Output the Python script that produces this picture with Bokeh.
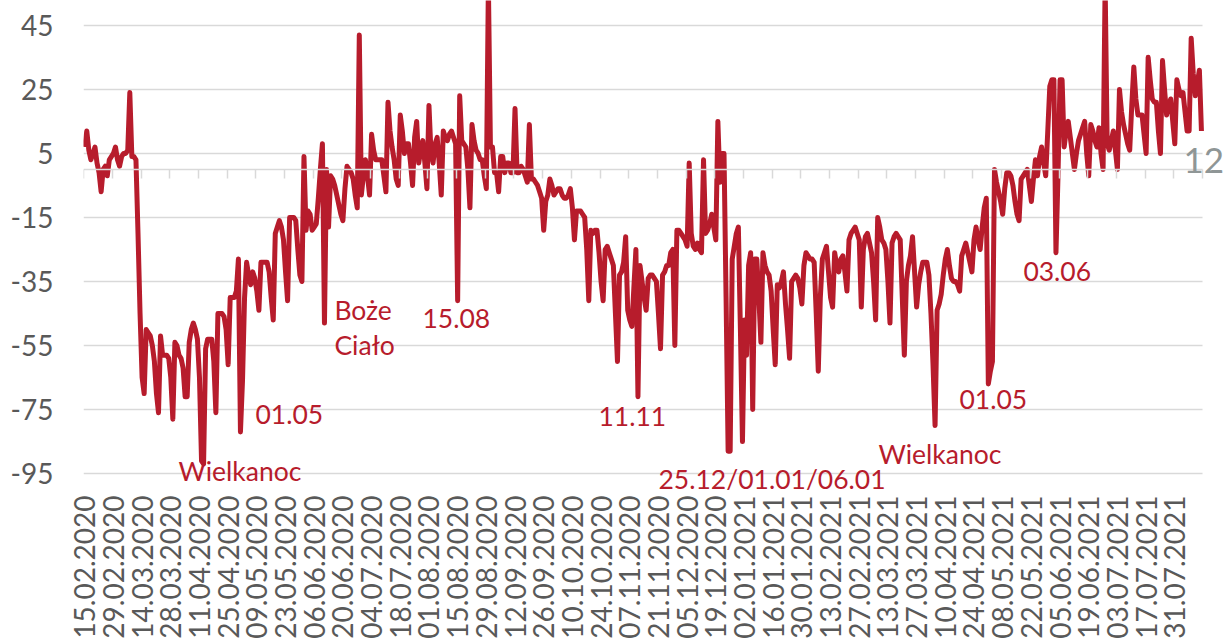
import numpy as np
from bokeh.plotting import figure
from bokeh.models import FixedTicker, Range1d, Label, LinearAxis, Grid
from bokeh.embed import file_html
from bokeh.resources import INLINE

# Daily values starting 15.02.2020 (one value per day)
vals_feb_may_2020 = [
    7, 12, 6, 3, 5, 7, 2,
    -1, -7, 0, 1, -2, 3, 4,
    5, 7, 3, 1, 4, 5, 5,
    6, 24, 4, 4, 3, -20, -45,
    -65, -70, -50, -51, -52, -55, -60,
    -70, -76, -52, -58, -58, -58, -59,
    -65, -78, -54, -55, -58, -59, -62,
    -71, -71, -54, -50, -48, -50, -53,
    -65, -91, -92, -56, -53, -53, -53,
    -60, -76, -45, -45, -45, -46, -50,
    -61, -40, -40, -40, -38, -28, -82,
]
vals_may_jul_2020 = [
    -66, -40, -29, -33, -36, -32, -34,
    -38, -44, -29, -29, -29, -29, -32,
    -40, -47, -20, -18, -16, -18, -22,
    -32, -41, -15, -15, -15, -16, -25,
    -33, -35, 4, -19, -13, -14, -19,
    -18, -17, -9, 0, 8, -48, 0,
    -18, -2, -3, -5, -8, -11, -14,
    -16, -6, 1, 0, -1, -3, -8,
    -12, 42, -8, -2, 3, -2, -8,
    11, 6, 3, 3, 3, 3, -2,
    -7, 21, 12, 7, 3, -3, -5,
    17,
]
vals_jul_oct_2020 = [
    12, 5, 8, 8, 2, -5, 10,
    15, 2, 6, 9, 2, -6, 20,
    5, 2, 8, 10, 2, -8, 12,
    10, 9, 11, 12, 10, 8, -41,
    23, 9, 8, 7, 0, -12, 14,
    9, 6, 5, 3, 3, -2, -6,
    58, 7, 7, -1, -1, -7, 4,
    4, -1, 2, 2, -1, -1, 19,
    -1, -1, 1, 0, -2, -4, 14,
    -3, -3, -4, -5, -7, -9, -19,
    -10, -8, -3, -5, -8, -7, -6,
]
vals_oct_dec_2020 = [
    -6, -8, -9, -9, -8, -6, -12,
    -22, -13, -13, -13, -14, -15, -25,
    -41, -19, -20, -19, -19, -26, -35,
    -41, -25, -24, -26, -28, -30, -45,
    -60, -33, -32, -29, -21, -44, -47,
    -49, -37, -25, -71, -30, -35, -40,
    -44, -34, -33, -33, -34, -35, -45,
    -56, -33, -32, -30, -30, -26, -25,
    -55, -19, -19, -20, -21, -22, -24,
    2, -20, -24, -25, -23, -25, -26,
    3, -20, -19, -17, -14, -18, -22,
    15, -4,
]
vals_dec_2020_mar_2021 = [
    5, 5, -40, -88, -88, -28, -24,
    -20, -18, -50, -85, -47, -58, -30,
    -26, -75, -28, -28, -40, -54, -26,
    -30, -32, -33, -38, -50, -61, -36,
    -37, -35, -32, -42, -50, -59, -35,
    -34, -33, -34, -37, -42, -30, -26,
    -27, -28, -28, -29, -45, -63, -40,
    -28, -26, -24, -32, -40, -43, -26,
    -30, -32, -28, -27, -32, -38, -22,
    -20, -19, -18, -20, -22, -43, -25,
    -21, -20, -23, -26, -35, -47, -15,
    -18, -22,
]
vals_mar_may_2021 = [
    -23, -25, -35, -48, -23, -21, -20,
    -21, -22, -40, -58, -35, -30, -27,
    -21, -32, -43, -36, -32, -29, -29,
    -29, -33, -45, -61, -80, -44, -42,
    -39, -33, -28, -25, -30, -34, -35,
    -35, -36, -38, -27, -25, -23, -26,
    -29, -32, -22, -18, -22, -25, -18,
    -12, -9, -67, -63, -60, 0, -4,
    -7, -10, -14, -6, -1, -1, -2,
    -5, -10, -14, -16, -3, -2, -1,
    0, -5, -10, -3, 3, -2, 4,
    7,
]
vals_may_aug_2021 = [
    2, -2, 12, 26, 28, 28, -26,
    -2, 28, 28, 7, 12, 15, 10,
    5, 0, 5, 9, 11, 13, 15,
    5, -2, 14, 12, 9, 7, 13,
    5, 0, 58, 8, 6, 9, 12,
    6, 0, 25, 18, 14, 11, 8,
    6, 20, 32, 22, 17, 17, 17,
    11, 5, 35, 28, 22, 21, 21,
    12, 5, 34, 25, 17, 20, 22,
    15, 8, 28, 25, 23, 24, 18,
    12, 12, 41, 30, 23, 27, 31,
    12,
]

x_labels = [
    "15.02.2020", "29.02.2020", "14.03.2020", "28.03.2020", "11.04.2020",
    "25.04.2020", "09.05.2020", "23.05.2020", "06.06.2020", "20.06.2020",
    "04.07.2020", "18.07.2020", "01.08.2020", "15.08.2020", "29.08.2020",
    "12.09.2020", "26.09.2020", "10.10.2020", "24.10.2020", "07.11.2020",
    "21.11.2020", "05.12.2020", "19.12.2020", "02.01.2021", "16.01.2021",
    "30.01.2021", "13.02.2021", "27.02.2021", "13.03.2021", "27.03.2021",
    "10.04.2021", "24.04.2021", "08.05.2021", "22.05.2021", "05.06.2021",
    "19.06.2021", "03.07.2021", "17.07.2021", "31.07.2021",
]
y_ticks = [-95, -75, -55, -35, -15, 5, 25, 45]
y_labels = ["-95", "-75", "-55", "-35", "-15", "5", "25", "45"]

# annotations: (text, day, value at text baseline)
notes = [
    ("Wielkanoc", 45.72, -96.24),
    ("01.05", 83.3, -78.55),
    ("Boże", 121.85, -45.95),
    ("Ciało", 121.85, -56.82),
    ("15.08", 164.8, -48.75),
    ("11.11", 250.7, -79.17),
    ("25.12/01.01/06.01", 280.0, -98.73),
    ("Wielkanoc", 387.35, -90.97),
    ("01.05", 426.9, -73.89),
    ("03.06", 458.1, -34.16),
]
end_note = ("12", 536.2, 0.0)

values = (vals_feb_may_2020 + vals_may_jul_2020 + vals_jul_oct_2020 +
          vals_oct_dec_2020 + vals_dec_2020_mar_2021 + vals_mar_may_2021 +
          vals_may_aug_2021)
days = list(range(len(values)))
n_days = len(values)

RED = "#b71c2c"
GRID = "#d9d9d9"
TXT = "#595959"
FONT = "Lato"

PX_PER_DAY = 2.049
PX_PER_UNIT = 3.2214
W, H = 1224, 641
LEFT, BOTTOM = 83, 147
x_start = -0.6
x_end = x_start + (W - LEFT) / PX_PER_DAY
y_top = 45 + 25 / PX_PER_UNIT
y_bottom = y_top - (H - BOTTOM) / PX_PER_UNIT

NOTE_PX = 26.5
END_PX = 35
BASELINE_FIX = 0.26  # em, renderer baseline offset


def lift(px):
    return BASELINE_FIX * px / PX_PER_UNIT


p = figure(width=W, height=H, output_backend="svg", toolbar_location=None,
           x_range=Range1d(x_start, x_end), y_range=Range1d(y_bottom, y_top),
           x_axis_location=None, y_axis_location=None,
           min_border_left=LEFT, min_border_right=0, min_border_top=0,
           min_border_bottom=BOTTOM)
p.outline_line_color = None
p.background_fill_color = "white"
p.border_fill_color = "white"
p.xgrid.grid_line_color = None
p.ygrid.grid_line_color = None

# y axis: labels only
yax = LinearAxis(ticker=FixedTicker(ticks=y_ticks))
yax.major_label_overrides = {t: s for t, s in zip(y_ticks, y_labels)}
yax.axis_line_color = None
yax.major_tick_line_color = None
yax.minor_tick_line_color = None
yax.major_tick_in = 0
yax.major_tick_out = 0
yax.major_label_standoff = 30
yax.major_label_text_font = FONT
yax.major_label_text_font_size = "28px"
yax.major_label_text_color = TXT
p.add_layout(yax, "left")

# horizontal grid lines limited to the plot area
grid = Grid(dimension=1, ticker=FixedTicker(ticks=y_ticks),
            grid_line_color=GRID, grid_line_width=1.5)
if "cross_bounds" in grid.properties():
    grid.cross_bounds = (-0.5, n_days - 0.5)
p.add_layout(grid, "center")

# category axis line at zero with tick marks between categories
bounds = [14 * i - 0.5 for i in range(len(x_labels) + 1)]
zax = LinearAxis(fixed_location=0, ticker=FixedTicker(ticks=bounds),
                 bounds=(-0.5, n_days - 0.5))
zax.axis_line_color = GRID
zax.axis_line_width = 1.5
zax.major_tick_line_color = GRID
zax.major_tick_line_width = 1.5
zax.major_tick_in = 0
zax.major_tick_out = 9
zax.minor_tick_line_color = None
zax.major_label_text_color = None
zax.major_label_text_font_size = "1px"
p.add_layout(zax, "below")

# date labels at the bottom
tick_pos = [14 * i for i in range(len(x_labels))]
xax = LinearAxis(ticker=FixedTicker(ticks=tick_pos))
xax.major_label_overrides = {t: lab for t, lab in zip(tick_pos, x_labels)}
xax.major_label_orientation = np.pi / 2
xax.axis_line_color = None
xax.major_tick_line_color = None
xax.minor_tick_line_color = None
xax.major_tick_in = 0
xax.major_tick_out = 0
xax.major_label_standoff = 4
xax.major_label_text_font = FONT
xax.major_label_text_font_size = "28px"
xax.major_label_text_color = TXT
p.add_layout(xax, "below")

p.line(days, values, line_color=RED, line_width=5, line_join="round")

for txt, xd, yv in notes:
    p.add_layout(Label(x=xd, y=yv + lift(NOTE_PX), text=txt, text_font=FONT,
                       text_font_size=f"{NOTE_PX}px", text_color=RED,
                       text_baseline="alphabetic", text_align="left"))

p.add_layout(Label(x=end_note[1], y=end_note[2] + lift(END_PX),
                   text=end_note[0], text_font=FONT,
                   text_font_size=f"{END_PX}px", text_color="#8f9696",
                   text_baseline="alphabetic", text_align="left"))

open("out.html", "w").write(file_html(p, INLINE))
